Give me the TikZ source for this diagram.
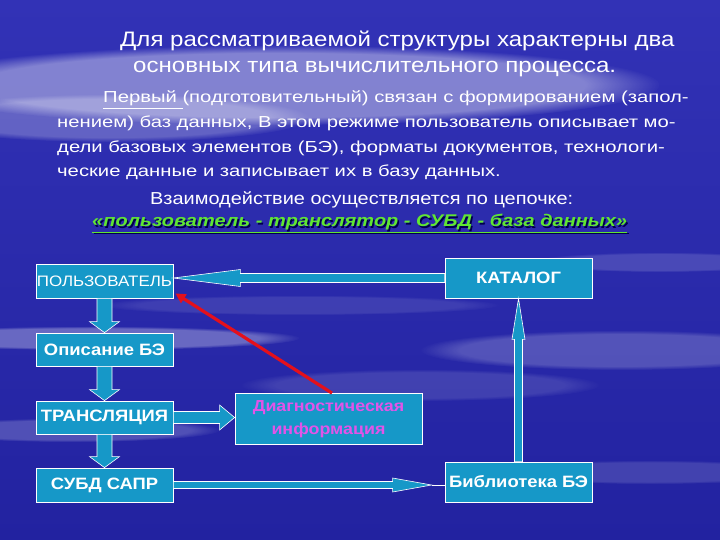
\documentclass[tikz,border=0pt]{standalone}
\usepackage{fontspec}
\setmainfont{Liberation Sans}
\newfontfamily\titlefont[FakeStretch=1.15]{Liberation Sans}
\newfontfamily\parafont[FakeStretch=1.27]{Liberation Sans}
\newfontfamily\boxfont[FakeStretch=1.12]{Liberation Sans}
\newfontfamily\chainfont[FakeStretch=1.18]{Liberation Sans}
\usetikzlibrary{calc,fadings,arrows.meta}
\definecolor{bgtop}{RGB}{50,50,182}
\definecolor{bgbot}{RGB}{34,34,160}
\definecolor{boxc}{RGB}{22,152,200}
\definecolor{diagc}{RGB}{226,84,232}
\definecolor{chainc}{RGB}{96,230,50}
\definecolor{redc}{RGB}{228,16,28}
\newcommand\downarr[2]{\draw[blk] ($(#1.south)+(-7.5,0)$) -- ($(#2.north)+(-7.5,-11)$) -- ($(#2.north)+(-15,-11)$) -- (#2.north) -- ($(#2.north)+(15,-11)$) -- ($(#2.north)+(7.5,-11)$) -- ($(#1.south)+(7.5,0)$) -- cycle;}
\tikzset{
  box/.style={draw=white, line width=0.8bp, fill=boxc, text=white, inner sep=0pt, align=center,
    font=\boxfont\bfseries\fontsize{16.5}{19}\selectfont},
  blk/.style={fill=boxc, draw=white, line width=0.6bp, line join=miter},
  haze/.style={fill=white, path fading=circle with fuzzy edge 20 percent},
  txt/.style={anchor=base west, inner sep=0pt, text=white},
}
\begin{document}
\begin{tikzpicture}[x=1bp,y=-1bp]
\useasboundingbox (0,0) rectangle (720,540);
\shade[top color=bgtop, bottom color=bgbot] (0,0) rectangle (720,540);
% haze
\fill[haze, fill opacity=0.40] (280,85) ellipse (380 and 40);
\fill[haze, fill opacity=0.25] (110,118) ellipse (200 and 24);
\fill[haze, fill opacity=0.30] (90,338) ellipse (210 and 12);
\fill[haze, fill opacity=0.20] (70,430) ellipse (150 and 12);
\fill[haze, fill opacity=0.20] (620,350) ellipse (200 and 20);
\fill[haze, fill opacity=0.15] (660,262) ellipse (130 and 10);
\fill[haze, fill opacity=0.14] (650,472) ellipse (160 and 12);
\fill[haze, fill opacity=0.12] (420,385) ellipse (180 and 16);
\fill[haze, fill opacity=0.10] (300,305) ellipse (200 and 10);

% texts
\node[txt, font=\titlefont\fontsize{21}{24}\selectfont] (l1) at (120,47) {Для рассматриваемой структуры характерны два};
\node[txt, font=\titlefont\fontsize{21}{24}\selectfont] (l2) at (133,73) {основных типа вычислительного процесса.};
\node[txt, font=\parafont\fontsize{16}{18}\selectfont] (p1) at (103,103) {\underline{Первый\ }(подготовительный) связан с формированием (запол-};
\node[txt, font=\parafont\fontsize{16}{18}\selectfont] (p2) at (57,128) {нением) баз данных, В этом режиме пользователь описывает мо-};
\node[txt, font=\parafont\fontsize{16}{18}\selectfont] (p3) at (57,153) {дели базовых элементов (БЭ), форматы документов, технологи-};
\node[txt, font=\parafont\fontsize{16}{18}\selectfont] (p4) at (57,177) {ческие данные и записывает их в базу данных.};
\node[txt, font=\titlefont\fontsize{17.4}{20}\selectfont] (p5) at (150,205) {Взаимодействие осуществляется по цепочке:};
\node[txt, text=black!70!blue, font=\chainfont\bfseries\itshape\fontsize{17}{20}\selectfont] at (93.5,228.5) {\underline{«пользователь - транслятор - СУБД - база данных»}};
\node[txt, text=chainc, font=\chainfont\bfseries\itshape\fontsize{17}{20}\selectfont] (p6) at (92,227) {\underline{«пользователь - транслятор - СУБД - база данных»}};

% boxes
\node[box, minimum width=137bp, minimum height=34bp, font=\boxfont\mdseries\fontsize{15.2}{18}\selectfont] (u) at (104.5,281) {ПОЛЬЗОВАТЕЛЬ};
\node[box, minimum width=137bp, minimum height=33bp] (d) at (104.5,349.5) {Описание БЭ};
\node[box, minimum width=137bp, minimum height=33bp] (t) at (104.5,417.5) {ТРАНСЛЯЦИЯ};
\node[box, minimum width=137bp, minimum height=34bp] (s) at (104.5,485) {СУБД САПР};
\node[box, minimum width=187bp, minimum height=51bp, text=diagc, font=\boxfont\bfseries\fontsize{16}{23}\selectfont] (diag) at (328.5,419) {Диагностическая\\информация};
\node[box, minimum width=147bp, minimum height=40bp] (kat) at (518.5,278) {КАТАЛОГ};
\node[box, minimum width=147bp, minimum height=40bp] (lib) at (518.5,482) {Библиотека БЭ};

% block arrows
\downarr{u}{d}
\downarr{d}{t}
\downarr{t}{s}
\draw[blk] ($(t.east)+(0,-6)$) -- ($(diag.west|-t.east)+(-15,-6)$) -- ($(diag.west|-t.east)+(-15,-12.5)$) -- (diag.west|-t.east) -- ($(diag.west|-t.east)+(-15,12.5)$) -- ($(diag.west|-t.east)+(-15,6)$) -- ($(t.east)+(0,6)$) -- cycle;
\draw[blk] ($(kat.west)+(0,-4.5)$) -- ($(u.east|-kat.west)+(67,-4.5)$) -- ($(u.east|-kat.west)+(67,-8.5)$) -- (u.east|-kat.west) -- ($(u.east|-kat.west)+(67,8.5)$) -- ($(u.east|-kat.west)+(67,4.5)$) -- ($(kat.west)+(0,4.5)$) -- cycle;
\coordinate (sl) at ($(lib.west|-s.east)+(-13,0)$);
\draw[white, line width=0.8bp] (sl) -- (lib.west|-s.east);
\draw[blk] ($(s.east)+(0,-3.5)$) -- ($(sl)+(-39,-3.5)$) -- ($(sl)+(-39,-7)$) -- (sl) -- ($(sl)+(-39,7)$) -- ($(sl)+(-39,3.5)$) -- ($(s.east)+(0,3.5)$) -- cycle;
\draw[blk] ($(lib.north)+(-4,0)$) -- ($(kat.south)+(-4,41)$) -- ($(kat.south)+(-6.5,41)$) -- (kat.south) -- ($(kat.south)+(6.5,41)$) -- ($(kat.south)+(4,41)$) -- ($(lib.north)+(4,0)$) -- cycle;
% red connector
\draw[redc, line width=3.2bp, -{Triangle[length=10bp,width=10bp]}] ($(diag.north)+(3.5,0)$) -- ($(u.south east)+(2,-5)$);
\end{tikzpicture}
\end{document}
